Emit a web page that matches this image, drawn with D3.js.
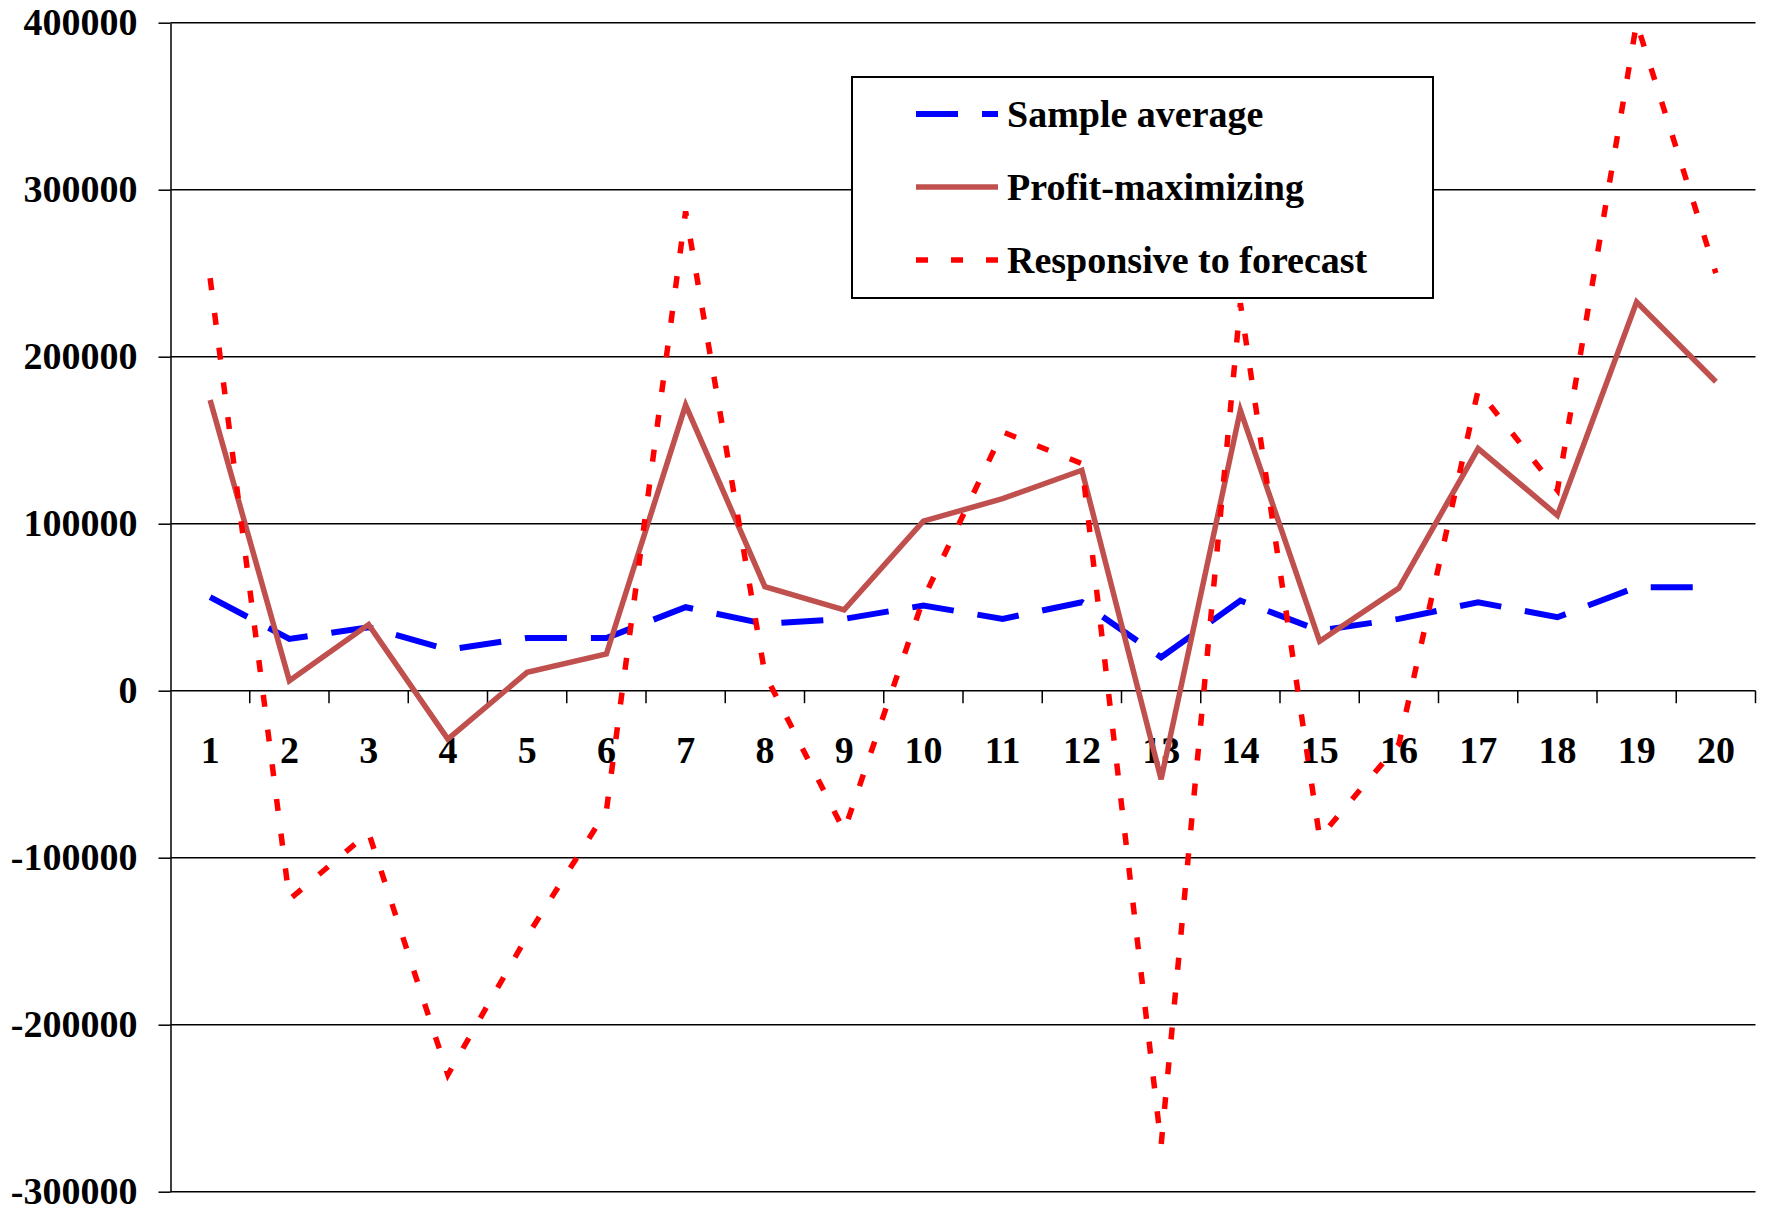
<!DOCTYPE html>
<html>
<head>
<meta charset="utf-8">
<script src="https://cdn.jsdelivr.net/npm/d3@7"></script>
<style>
  body { margin: 0; background: #fff; }
  svg { display: block; }
</style>
</head>
<body>
<svg width="1775" height="1211"></svg>
<script>
var categories = ["1","2","3","4","5","6","7","8","9","10","11","12","13","14","15","16","17","18","19","20"];
var sampleAverage = [56000, 31000, 38000, 24500, 31600, 31600, 50000, 40000, 43000, 51000, 43000, 53000, 20000, 54000, 36000, 43000, 53000, 44000, 62000, 62000];
var profitMax = [174000, 6000, 39600, -29000, 11000, 22000, 171000, 62300, 48400, 101500, 115000, 132000, -53000, 168000, 29600, 61500, 145000, 105000, 232700, 185000];
var responsive = [247000, -125000, -85000, -230000, -147000, -72000, 287000, 10000, -84000, 55000, 155000, 136000, -272000, 232000, -88000, -32000, 180000, 120000, 400000, 250000];
var yTicks = [-300000, -200000, -100000, 0, 100000, 200000, 300000, 400000];

var series = [
    {name: "Sample average", values: sampleAverage, color: "#0000ff", width: 6, dash: "42,24"},
    {name: "Profit-maximizing", values: profitMax, color: "#c0504d", width: 5.5, dash: null},
    {name: "Responsive to forecast", values: responsive, color: "#ff0000", width: 5.5, dash: "12,23"}
];

var svg = d3.select("svg"),
    font = "'Times New Roman', 'Liberation Serif', serif",
    plotLeft = 170.5, plotRight = 1755.5, plotTop = 22.7, plotBottom = 1191.7;

var x = d3.scaleBand().domain(categories).range([plotLeft, plotRight]);
var y = d3.scaleLinear().domain([-300000, 400000]).range([plotBottom, plotTop]);

// gridlines
svg.append("g").selectAll("line")
    .data(yTicks)
    .enter().append("line")
    .attr("x1", plotLeft).attr("x2", plotRight)
    .attr("y1", d => y(d)).attr("y2", d => y(d))
    .attr("stroke", "#000").attr("stroke-width", 1.5);

// y axis (plain hyphen for negatives, like the original)
var yAxis = svg.append("g")
    .attr("transform", "translate(" + plotLeft + ",0)")
    .call(d3.axisLeft(y).tickValues(yTicks).tickSize(12).tickSizeOuter(0).tickPadding(21).tickFormat(d => String(d)));
yAxis.selectAll("path, line").attr("stroke-width", 1.5);
yAxis.selectAll("text")
    .attr("font-family", font).attr("font-size", 38).attr("font-weight", "bold").attr("fill", "#000");

// x axis labels at the zero line
var xAxis = svg.append("g")
    .attr("transform", "translate(0," + y(0) + ")")
    .call(d3.axisBottom(x).tickSize(0).tickPadding(45));
xAxis.select(".domain").remove();
xAxis.selectAll("text")
    .attr("font-family", font).attr("font-size", 38).attr("font-weight", "bold").attr("fill", "#000");

// tick marks between categories
svg.append("g").selectAll("line")
    .data(categories)
    .enter().append("line")
    .attr("x1", d => x(d) + x.step()).attr("x2", d => x(d) + x.step())
    .attr("y1", y(0)).attr("y2", y(0) + 12.5)
    .attr("stroke", "#000").attr("stroke-width", 1.5);

var line = d3.line()
    .x((d, i) => x(categories[i]) + x.bandwidth() / 2)
    .y(d => y(d));

svg.append("g").selectAll("path")
    .data(series)
    .enter().append("path")
    .attr("d", d => line(d.values))
    .attr("fill", "none")
    .attr("stroke", d => d.color)
    .attr("stroke-width", d => d.width)
    .attr("stroke-dasharray", d => d.dash);

// legend
var legend = svg.append("g");
legend.append("rect")
    .attr("x", 852).attr("y", 77).attr("width", 581).attr("height", 221)
    .attr("fill", "#fff").attr("stroke", "#000").attr("stroke-width", 2);

var item = legend.selectAll(".item")
    .data(series)
    .enter().append("g")
    .attr("class", "item")
    .attr("transform", (d, i) => "translate(0," + (114 + i * 73) + ")");

item.append("line")
    .attr("x1", 916).attr("x2", 998)
    .attr("stroke", d => d.color)
    .attr("stroke-width", d => d.width)
    .attr("stroke-dasharray", d => d.dash);

item.append("text")
    .attr("x", 1007).attr("y", 13)
    .attr("font-family", font).attr("font-size", 38).attr("font-weight", "bold")
    .text(d => d.name);
</script>
</body>
</html>
